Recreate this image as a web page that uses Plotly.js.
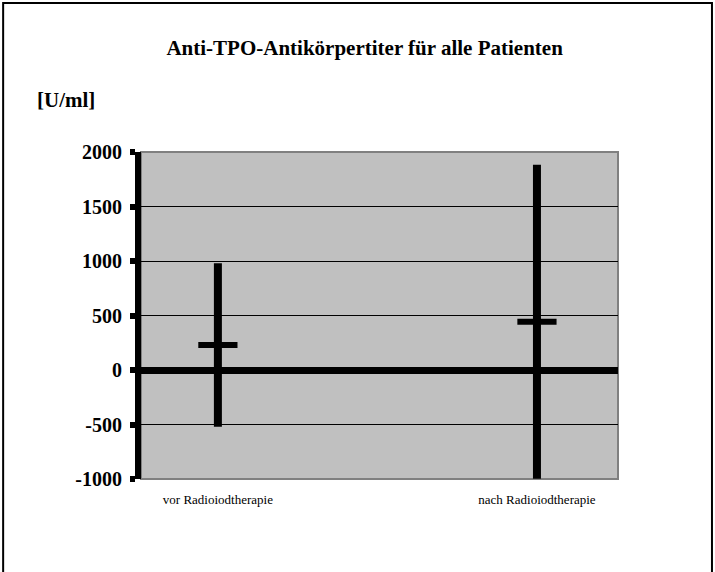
<!DOCTYPE html>
<html>
<head>
<meta charset="utf-8">
<script src="https://cdn.plot.ly/plotly-3.0.1.min.js"></script>
<style>
html,body{margin:0;padding:0;background:#fff;}
#chart{width:715px;height:572px;}
</style>
</head>
<body>
<div id="chart"></div>
<script>
// Data
var categories = ["vor Radioiodtherapie", "nach Radioiodtherapie"];
var categoryPositions = [0, 1];
var meanValues = [230, 443];
var errorValues = [750, 1440];
var yTickValues = [-1000, -500, 0, 500, 1000, 1500, 2000];
var yTickLabels = ["-1000", "-500", "0", "500", "1000", "1500", "2000"];

var serif = "Liberation Serif";

var trace = {
  type: "scatter",
  mode: "markers",
  x: categoryPositions,
  y: meanValues,
  marker: {symbol: "line-ew", size: 28, color: "black", line: {width: 6, color: "black"}},
  error_y: {type: "data", array: errorValues, visible: true, thickness: 8, width: 0, color: "black"},
  hoverinfo: "skip",
  showlegend: false
};

var layout = {
  width: 715,
  height: 572,
  margin: {l: 141, r: 97, t: 152, b: 93},
  paper_bgcolor: "white",
  plot_bgcolor: "#c0c0c0",
  font: {family: serif, color: "black"},
  showlegend: false,
  title: {
    text: "<b>Anti-TPO-Antikörpertiter für alle Patienten</b>",
    font: {family: serif, size: 21, color: "black"},
    x: 0.51, xanchor: "center", y: 0.916, yanchor: "middle"
  },
  xaxis: {
    range: [-0.241, 1.254],
    tickvals: categoryPositions,
    ticktext: categories,
    showgrid: false,
    zeroline: false,
    showline: false,
    ticks: "",
    ticklabelstandoff: 11,
    tickfont: {family: serif, size: 13, color: "black"},
    fixedrange: true
  },
  yaxis: {
    range: [-1000, 2000],
    tickvals: yTickValues,
    ticktext: yTickLabels,
    showgrid: true,
    gridcolor: "black",
    gridwidth: 1,
    zeroline: true,
    zerolinecolor: "black",
    zerolinewidth: 7,
    showline: true,
    linecolor: "black",
    linewidth: 6,
    ticks: "outside",
    ticklen: 5,
    tickwidth: 6,
    tickcolor: "black",
    ticklabelstandoff: 4,
    tickfont: {family: serif, size: 20, color: "black", weight: "bold"},
    fixedrange: true
  },
  shapes: [
    {type: "rect", xref: "paper", yref: "paper", x0: 0, x1: 1, y0: 0, y1: 1,
     line: {color: "#808080", width: 2}, fillcolor: "rgba(0,0,0,0)", layer: "below"},
    {type: "rect", xref: "paper", yref: "paper", x0: -0.289, x1: 1.197, y0: -0.35, y1: 1.456,
     line: {color: "black", width: 2}, fillcolor: "rgba(0,0,0,0)", layer: "above"}
  ],
  annotations: [
    {text: "<b>[U/ml]</b>", xref: "paper", yref: "paper", x: -0.222, y: 1.158,
     xanchor: "left", yanchor: "middle", showarrow: false,
     font: {family: serif, size: 21, color: "black"}}
  ]
};

Plotly.newPlot("chart", [trace], layout, {displayModeBar: false, staticPlot: true});
</script>
</body>
</html>
